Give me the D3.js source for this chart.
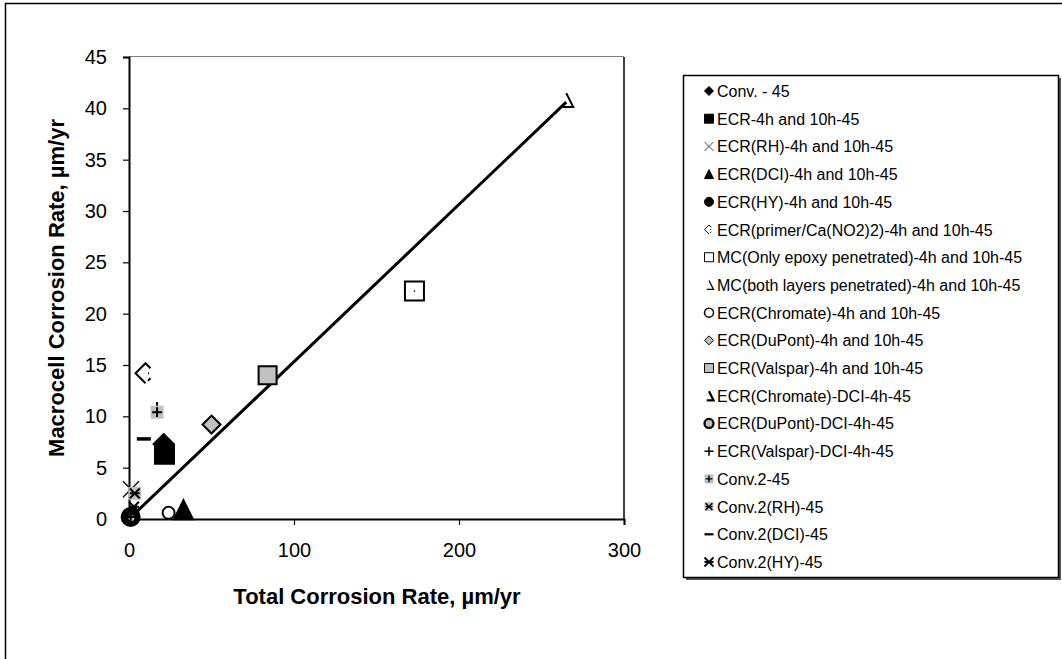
<!DOCTYPE html>
<html>
<head>
<meta charset="utf-8">
<script src="https://cdn.jsdelivr.net/npm/d3@7"></script>
<style>
  body { margin: 0; background: #fff; }
  svg { font-family: Arial, "Liberation Sans", sans-serif; }
</style>
</head>
<body>
<div id="chart"></div>
<script>
// series points [total, macrocell]
const conv45 = [[21, 7.3]];
const ecr = [[21.5, 6.3]];
const ecrRH = [[1.2, 2.9]];
const ecrDCI = [[33, 0.9]];
const ecrHY = [[1, 0.2]];
const ecrPrimer = [[10, 14.2]];
const mcOnly = [[173, 22.2]];
const mcBoth = [[265, 40.8]];
const ecrChromate = [[24, 0.6]];
const ecrDuPont = [[50, 9.2]];
const ecrValspar = [[84, 14]];
const chromateDCI = [[1.5, 0.4]];
const duPontDCI = [[1.5, 0.1]];
const valsparDCI = [[17, 10.8], [1, 0.2]];
const conv2 = [[17, 10.4]];
const conv2RH = [[3.5, 2.5]];
const conv2DCI = [[9, 7.8]];
const conv2HY = [[3, 1.2]];
const trend = [[0, 0], [265, 40.6]];

const xTicks = [0, 100, 200, 300];
const yTicks = [0, 5, 10, 15, 20, 25, 30, 35, 40, 45];

const width = 1062, height = 659;

const svg = d3.select("#chart").append("svg")
  .attr("width", width)
  .attr("height", height);

// chart area border (right and bottom edges fall outside the picture)
svg.append("rect")
  .attr("x", 5.5).attr("y", 3.5)
  .attr("width", 1070).attr("height", 670)
  .attr("fill", "#fff").attr("stroke", "#000").attr("stroke-width", 1.5);

const x = d3.scaleLinear().domain([0, 300]).range([129, 624]);
const y = d3.scaleLinear().domain([0, 45]).range([519, 57]);

// plot area frame: grey top, dark right
svg.append("line")
  .attr("x1", x(0)).attr("x2", x(300)).attr("y1", y(45) - 0.5).attr("y2", y(45) - 0.5)
  .attr("stroke", "#808080").attr("stroke-width", 1);
svg.append("line")
  .attr("x1", x(300)).attr("x2", x(300)).attr("y1", y(45)).attr("y2", y(0))
  .attr("stroke", "#000").attr("stroke-width", 1.5);

const xAxis = svg.append("g")
  .attr("transform", `translate(0,${y(0)})`)
  .call(d3.axisBottom(x).tickValues(xTicks).tickSize(6).tickPadding(18).tickFormat(d3.format("d")));
const yAxis = svg.append("g")
  .attr("transform", `translate(${x(0)},0)`)
  .call(d3.axisLeft(y).tickValues(yTicks).tickSize(6).tickPadding(16).tickFormat(d3.format("d")));

[xAxis, yAxis].forEach(a => {
  a.select(".domain").attr("stroke", "#000").attr("stroke-width", 2);
  a.selectAll(".tick line").attr("stroke", "#000").attr("stroke-width", 1.2);
  a.selectAll(".tick text").attr("font-size", 20).attr("fill", "#000")
    .attr("font-family", "Arial, 'Liberation Sans', sans-serif");
});

svg.append("text")
  .attr("x", 377).attr("y", 604)
  .attr("text-anchor", "middle")
  .attr("font-size", 22).attr("font-weight", "bold")
  .text("Total Corrosion Rate, µm/yr");

svg.append("text")
  .attr("transform", `translate(64,${(y(0) + y(45)) / 2}) rotate(-90)`)
  .attr("text-anchor", "middle")
  .attr("font-size", 22).attr("font-weight", "bold")
  .text("Macrocell Corrosion Rate, µm/yr");

// trend line
svg.append("path")
  .datum(trend)
  .attr("d", d3.line().x(d => x(d[0])).y(d => y(d[1])))
  .attr("fill", "none").attr("stroke", "#000").attr("stroke-width", 3);

// marker shapes, s = full size in px
const shapes = {
  diamond: s => `M0,${-s / 2}L${s / 2},0L0,${s / 2}L${-s / 2},0Z`,
  square: s => `M${-s / 2},${-s / 2}h${s}v${s}h${-s}Z`,
  triangle: s => `M0,${-s / 2}L${s / 2},${s / 2}L${-s / 2},${s / 2}Z`,
  circle: s => `M${s / 2},0A${s / 2},${s / 2} 0 1 1 ${-s / 2},0A${s / 2},${s / 2} 0 1 1 ${s / 2},0Z`,
  ex: s => `M${-s / 2},${-s / 2}L${s / 2},${s / 2}M${s / 2},${-s / 2}L${-s / 2},${s / 2}`,
  plus: s => `M${-s / 2},0H${s / 2}M0,${-s / 2}V${s / 2}`,
  dash: s => `M${-s / 2},0H${s / 2}`,
  star: s => `M${-s / 2},${-s / 2}L${s / 2},${s / 2}M${s / 2},${-s / 2}L${-s / 2},${s / 2}M${-s / 2},0H${s / 2}`,
  // broken diamond: left half drawn, bits of the right half
  chevron: s => `M${s / 4},${-s / 4}L0,${-s / 2}L${-s / 2},0L0,${s / 2}M${s / 4},${s / 4}L${s / 8},${3 * s / 8}M${s / 8},0h1`,
  // broken triangle: right edge and base
  halftri: s => `M0,${-s / 2}L${s / 2},${s / 2}L${-s / 4},${s / 2}`
};

const series = [
  { name: "Conv. - 45", data: conv45, shape: "diamond", fill: "#000", stroke: "#000", size: 20 },
  { name: "ECR-4h and 10h-45", data: ecr, shape: "square", fill: "#000", stroke: "#000", size: 19 },
  { name: "ECR(RH)-4h and 10h-45", data: ecrRH, shape: "ex", fill: "none", stroke: "#000", size: 16, sw: 1.3 },
  { name: "ECR(DCI)-4h and 10h-45", data: ecrDCI, shape: "triangle", fill: "#000", stroke: "#000", size: 19 },
  { name: "ECR(HY)-4h and 10h-45", data: ecrHY, shape: "circle", fill: "#000", stroke: "#000", size: 18 },
  { name: "ECR(primer/Ca(NO2)2)-4h and 10h-45", data: ecrPrimer, shape: "chevron", fill: "none", stroke: "#000", size: 20 },
  { name: "MC(Only epoxy penetrated)-4h and 10h-45", data: mcOnly, shape: "square", fill: "#fff", stroke: "#000", size: 19, dot: true },
  { name: "MC(both layers penetrated)-4h and 10h-45", data: mcBoth, shape: "halftri", fill: "none", stroke: "#000", size: 14 },
  { name: "ECR(Chromate)-4h and 10h-45", data: ecrChromate, shape: "circle", fill: "#fff", stroke: "#000", size: 12 },
  { name: "ECR(DuPont)-4h and 10h-45", data: ecrDuPont, shape: "diamond", fill: "#c0c0c0", stroke: "#000", size: 18 },
  { name: "ECR(Valspar)-4h and 10h-45", data: ecrValspar, shape: "square", fill: "#c0c0c0", stroke: "#000", size: 18 },
  { name: "ECR(Chromate)-DCI-4h-45", data: chromateDCI, shape: "halftri", fill: "none", stroke: "#000", size: 8 },
  { name: "ECR(DuPont)-DCI-4h-45", data: duPontDCI, shape: "circle", fill: "#c0c0c0", stroke: "#000", size: 8 },
  { name: "ECR(Valspar)-DCI-4h-45", data: valsparDCI, shape: "plus", fill: "none", stroke: "#000", size: 12 },
  { name: "Conv.2-45", data: conv2, shape: "square", fill: "#c0c0c0", stroke: "none", size: 13, inner: "plus" },
  { name: "Conv.2(RH)-45", data: conv2RH, shape: "square", fill: "#c0c0c0", stroke: "none", size: 13, inner: "star" },
  { name: "Conv.2(DCI)-45", data: conv2DCI, shape: "dash", fill: "none", stroke: "#000", size: 14, sw: 3.5 },
  { name: "Conv.2(HY)-45", data: conv2HY, shape: "star", fill: "none", stroke: "#000", size: 10, sw: 2 }
];

function drawMarker(g, s, size) {
  const k = Math.max(size / s.size, 0.5);
  g.append("path")
    .attr("d", shapes[s.shape](size))
    .attr("fill", s.fill)
    .attr("stroke", s.stroke)
    .attr("stroke-width", (s.sw || 2) * k);
  if (s.inner) {
    g.append("path")
      .attr("d", shapes[s.inner](size * 0.75))
      .attr("fill", "none").attr("stroke", "#000")
      .attr("stroke-width", 2 * k);
  }
  if (s.dot && size > 10) {
    g.append("rect").attr("x", -0.7).attr("y", -0.7).attr("width", 1.4).attr("height", 1.4).attr("fill", "#000");
  }
}

const marks = svg.append("g");
series.forEach(s => {
  marks.selectAll(null)
    .data(s.data)
    .enter()
    .append("g")
    .attr("transform", d => `translate(${x(d[0])},${y(d[1])})`)
    .each(function () { drawMarker(d3.select(this), s, s.size); });
});

// legend with shadow
const legend = svg.append("g");
legend.append("rect")
  .attr("x", 686).attr("y", 78).attr("width", 375).attr("height", 502)
  .attr("fill", "#555");
legend.append("rect")
  .attr("x", 683.5).attr("y", 75.5).attr("width", 375).attr("height", 502)
  .attr("fill", "#fff").attr("stroke", "#000").attr("stroke-width", 1.5);

const row = d3.scaleLinear().domain([0, series.length - 1]).range([91, 562]);
series.forEach((s, i) => {
  const item = legend.append("g").attr("transform", `translate(709,${row(i)})`);
  drawMarker(item, s, 9);
  item.append("text")
    .attr("x", 8).attr("y", 6)
    .attr("font-size", 16).attr("fill", "#000")
    .text(s.name);
});
</script>
</body>
</html>
